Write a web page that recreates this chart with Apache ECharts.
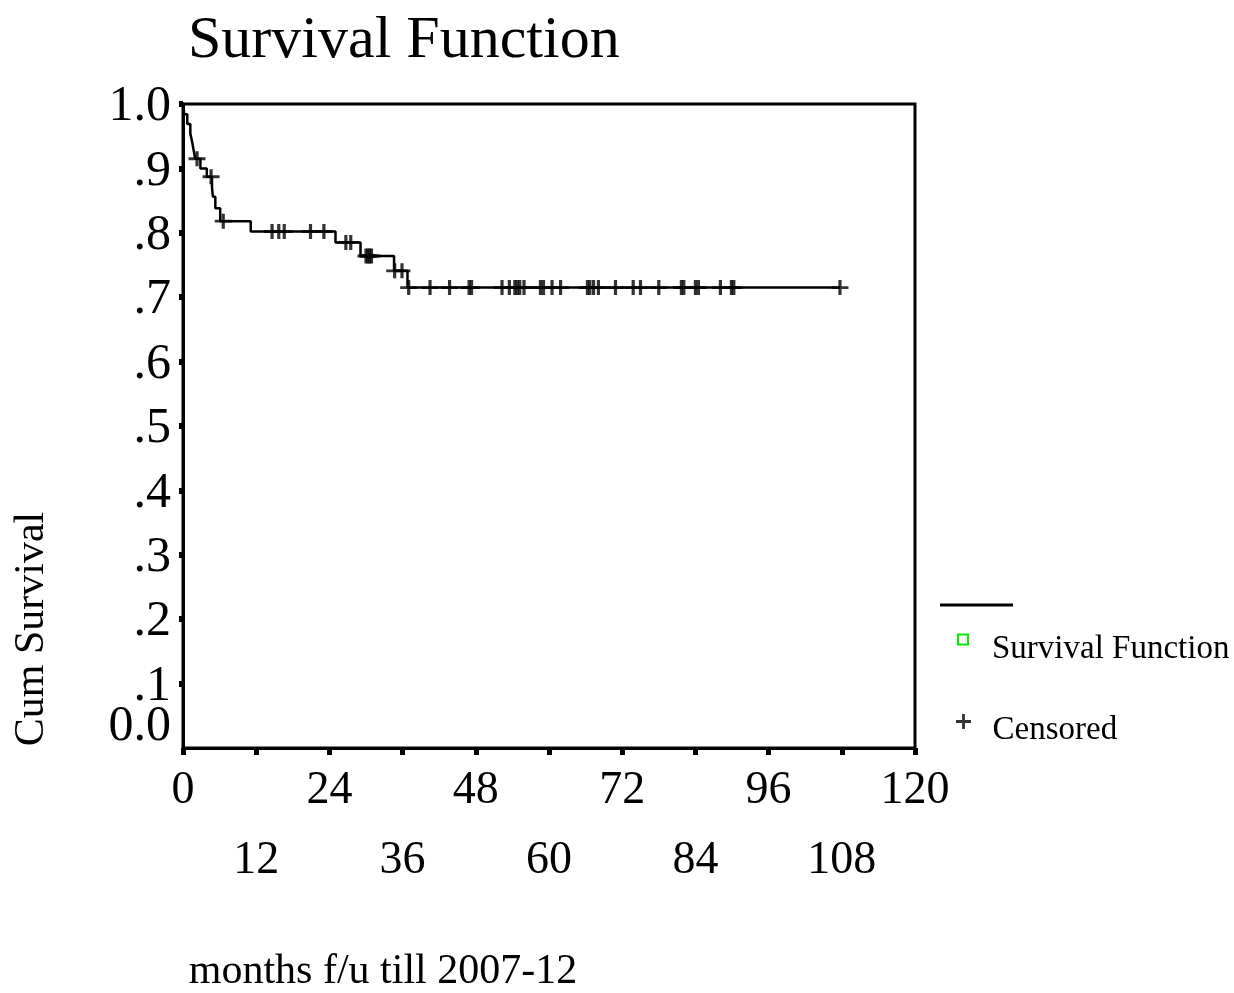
<!DOCTYPE html>
<html><head><meta charset="utf-8">
<script src="https://cdn.jsdelivr.net/npm/echarts@6/dist/echarts.min.js"></script>
<style>html,body{margin:0;padding:0;background:#fff}#c{width:1234px;height:993px}</style>
</head><body><div id="c"></div>
<script>
const titleText = 'Survival Function';
const xAxisName = 'months f/u till 2007-12';
const yAxisName = 'Cum Survival';
const legendLine = 'Survival Function';
const legendCensor = 'Censored';
const xMin = 0, xMax = 120, xStep = 12;
const yMin = 0, yMax = 1, yStep = 0.1;
const yTickLabels = ['0.0', '.1', '.2', '.3', '.4', '.5', '.6', '.7', '.8', '.9', '1.0'];
// Kaplan-Meier steps: time (months) and survival after the event
const eventMonths = [0, 0.2, 0.7, 1.2, 1.5, 1.75, 2.0, 2.85, 3.9, 4.75, 4.9, 5.3, 6.1, 11.1, 25.0, 29.1, 34.6, 36.8, 107.7];
const survival    = [1, 0.984, 0.969, 0.954, 0.941, 0.928, 0.915, 0.900, 0.887, 0.871, 0.856, 0.838, 0.818, 0.802, 0.785, 0.764, 0.741, 0.715, 0.715];
// Censored observations (months)
const censoredMonths = [2.3, 4.6, 6.6, 14.6, 15.7, 16.6, 20.9, 23.1, 26.7, 27.5, 30.0, 30.3, 30.6, 30.9,
  34.7, 35.9, 37.0, 40.5, 43.7, 46.9, 47.3, 52.3, 53.5, 54.4, 54.8, 55.2, 55.9, 58.6, 59.1, 60.5, 61.9,
  66.3, 66.7, 67.3, 68.1, 70.9, 73.8, 75.0, 78.0, 81.7, 82.1, 84.0, 84.5, 88.1, 89.9, 90.3, 107.7];

const FONT = "'Liberation Serif', 'Times New Roman', serif";
function survivalAt(t) {
  let s = survival[0];
  for (let i = 0; i < eventMonths.length; i++) { if (eventMonths[i] <= t) s = survival[i]; }
  return s;
}
const plusPath = 'path://M6.5,0H9.5V6.5H16V9.5H9.5V16H6.5V9.5H0V6.5H6.5Z';
const labelIdx = v => Math.round(v / yStep);

const chart = echarts.init(document.getElementById('c'), null, {renderer: 'canvas'});
chart.setOption({
  backgroundColor: '#fff',
  animation: false,
  title: {
    text: titleText, left: 183, top: 6,
    textStyle: {fontFamily: FONT, fontSize: 60, fontWeight: 'normal', color: '#000'}
  },
  grid: {left: 183, right: 319, top: 104, bottom: 245, show: true, borderColor: '#000', borderWidth: 3, outerBoundsMode: 'none', containLabel: false},
  xAxis: {
    type: 'value', min: xMin, max: xMax, interval: xStep,
    name: xAxisName, nameLocation: 'middle', nameGap: 203,
    nameTextStyle: {fontFamily: FONT, fontSize: 42, color: '#000', padding: [0, 332, 0, 0]},
    axisLine: {show: true, lineStyle: {color: '#000', width: 3}},
    axisTick: {show: true, length: 7, lineStyle: {color: '#000', width: 5}},
    splitLine: {show: false},
    axisLabel: {
      showMinLabel: true, showMaxLabel: true, hideOverlap: false, margin: 20, color: '#000',
      formatter: function (v) { return (Math.round(v / xStep) % 2 === 1) ? '{lo|' + v + '}' : '{hi|' + v + '}'; },
      rich: {
        hi: {fontFamily: FONT, fontSize: 46, color: '#000'},
        lo: {fontFamily: FONT, fontSize: 46, color: '#000', padding: [70, 0, 0, 0]}
      }
    }
  },
  yAxis: [
    {
      type: 'value', min: yMin, max: yMax, interval: yStep, position: 'left',
      name: yAxisName, nameLocation: 'middle', nameGap: 130, nameRotate: 90,
      nameTextStyle: {fontFamily: FONT, fontSize: 42, color: '#000', padding: [0, 406, 0, 0]},
      axisLine: {show: true, lineStyle: {color: '#000', width: 3}},
      axisTick: {show: true, length: 4, lineStyle: {color: '#000', width: 6}},
      splitLine: {show: false},
      axisLabel: {
        showMinLabel: false, showMaxLabel: true, hideOverlap: false, margin: 12, color: '#000',
        formatter: function (v) { const i = labelIdx(v); return i === 0 ? '' : '{n|' + yTickLabels[i] + '}'; },
        rich: {n: {fontFamily: FONT, fontSize: 50, color: '#000', padding: [6, 0, 0, 0]}}
      }
    },
    {
      type: 'value', min: yMin, max: yMax, interval: yStep, position: 'left', offset: 0,
      axisLine: {show: false}, axisTick: {show: false}, splitLine: {show: false},
      axisLabel: {
        showMinLabel: true, showMaxLabel: false, hideOverlap: false, margin: 12, color: '#000',
        formatter: function (v) { const i = labelIdx(v); return i === 0 ? '{z|' + yTickLabels[i] + '}' : ''; },
        rich: {z: {fontFamily: FONT, fontSize: 50, color: '#000', padding: [0, 0, 42, 0]}}
      }
    }
  ],
  legend: [
    {
      left: 952, top: 628, orient: 'vertical', selectedMode: false,
      itemWidth: 48, itemHeight: 10, symbolKeepAspect: true,
      data: [{name: legendLine, icon: 'path://M0,0H10V10H0Z', itemStyle: {color: 'rgba(0,0,0,0)', borderColor: '#00ee00', borderWidth: 2}}],
      formatter: function (n) { return '{t|' + n + '}'; },
      textStyle: {color: '#000', rich: {t: {fontFamily: FONT, fontSize: 33, color: '#000', padding: [20, 0, 0, 0]}}}
    },
    {
      left: 951, top: 709, orient: 'vertical', selectedMode: false,
      itemWidth: 48, itemHeight: 15, symbolKeepAspect: true,
      data: [{name: legendCensor, icon: 'path://M6.5,0H9.5V6.5H16V9.5H9.5V16H6.5V9.5H0V6.5H6.5Z', itemStyle: {color: '#000'}}],
      formatter: function (n) { return '{t|' + n + '}'; },
      textStyle: {color: '#000', rich: {t: {fontFamily: FONT, fontSize: 33, color: '#000', padding: [18, 0, 0, 0]}}}
    }
  ],
  graphic: [
    {type: 'line', shape: {x1: 940, y1: 605, x2: 1013, y2: 605}, style: {stroke: '#000', lineWidth: 3}}
  ],
  series: [
    {
      name: legendLine, type: 'line', step: 'end', showSymbol: false, symbol: 'none', yAxisIndex: 0,
      data: eventMonths.map((t, i) => [t, survival[i]]),
      lineStyle: {color: '#000', width: 2.5}, itemStyle: {color: '#000'}
    },
    {
      name: legendCensor, type: 'scatter', symbol: plusPath, symbolSize: [17, 15], yAxisIndex: 0,
      data: censoredMonths.map(t => [t, survivalAt(t)]),
      itemStyle: {color: '#000'}
    }
  ]
});
</script></body></html>
